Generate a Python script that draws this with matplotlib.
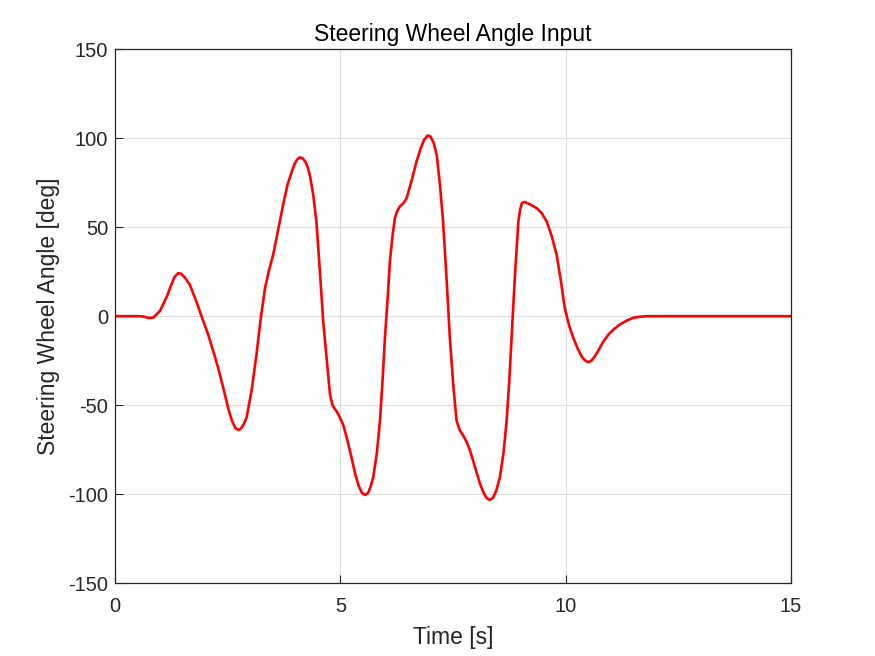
import numpy as np
import matplotlib
matplotlib.use("Agg")
import matplotlib.pyplot as plt

# Steering wheel angle trace (time in s, angle in deg)
time_s = [0.0, 0.3, 0.55, 0.65, 0.74, 0.85, 1.0, 1.15, 1.24, 1.32, 1.40, 1.47,
          1.55, 1.66, 1.81, 1.96, 2.07, 2.18, 2.29, 2.40, 2.52, 2.60, 2.67,
          2.74, 2.80, 2.86, 2.92, 3.03, 3.14, 3.23, 3.33, 3.42, 3.51, 3.62,
          3.73, 3.83, 3.92, 3.98, 4.04, 4.10, 4.16, 4.22, 4.28, 4.33, 4.40,
          4.47, 4.55, 4.62, 4.70, 4.77, 4.82, 4.87, 4.92, 4.99, 5.07, 5.14,
          5.24, 5.33, 5.41, 5.48, 5.55, 5.61, 5.67, 5.73, 5.81, 5.88, 5.94,
          5.99, 6.05, 6.10, 6.16, 6.21, 6.26, 6.32, 6.40, 6.47, 6.58, 6.69,
          6.78, 6.86, 6.94, 7.00, 7.07, 7.14, 7.21, 7.28, 7.36, 7.43, 7.51,
          7.58, 7.65, 7.73, 7.80, 7.88, 7.99, 8.10, 8.18, 8.25, 8.32, 8.39,
          8.46, 8.54, 8.62, 8.69, 8.75, 8.80, 8.84, 8.88, 8.92, 8.95, 8.99,
          9.03, 9.08, 9.20, 9.36, 9.47, 9.58, 9.69, 9.80, 9.89, 9.98, 10.08,
          10.17, 10.26, 10.35, 10.42, 10.48, 10.52, 10.57, 10.64, 10.72,
          10.83, 10.95, 11.07, 11.20, 11.35, 11.50, 11.65, 11.80, 12.5, 13.5,
          15.0]
angle_deg = [0.0, 0.0, 0.0, -0.3, -1.0, -0.8, 3.0, 11.0, 17.0, 22.0, 24.2,
             23.8, 21.8, 17.7, 8.0, -2.8, -10.5, -19.6, -29.0, -40.0, -52.5,
             -59.0, -62.8, -64.0, -63.0, -60.5, -56.9, -42.0, -21.5, -2.0, 15.9,
             26.0, 34.5, 48.5, 62.5, 74.0, 81.0, 85.2, 88.0, 89.2, 88.8, 87.0,
             83.5, 78.5, 68.0, 53.0, 24.0, -2.8, -24.5, -43.8, -49.5, -51.8,
             -53.5, -56.9, -61.5, -68.0, -78.5, -88.6, -95.5, -99.3, -100.4,
             -99.5, -96.0, -90.5, -77.0, -58.8, -35.0, -12.0, 10.0, 30.8, 45.5,
             55.0, 59.0, 61.6, 63.5, 66.2, 76.0, 86.8, 94.0, 99.2, 101.5, 101.0,
             97.5, 90.5, 74.0, 53.2, 20.0, -12.1, -40.0, -58.8, -64.0, -67.2,
             -70.5, -75.6, -85.0, -94.2, -99.2, -102.3, -103.2, -102.0, -98.0,
             -90.5, -77.0, -58.8, -36.0, -12.0, 7.0, 25.0, 41.0, 53.0, 60.0,
             63.6, 64.2, 63.0, 60.6, 57.8, 53.2, 45.0, 34.5, 20.5, 4.6, -5.5,
             -12.1, -17.8, -22.4, -24.6, -25.6, -25.7, -25.0, -22.8, -19.6,
             -14.5, -10.3, -7.3, -4.7, -2.5, -0.9, -0.3, 0.0, 0.0, 0.0, 0.0]

y_ticks = [-150, -100, -50, 0, 50, 100, 150]
x_ticks = [0, 5, 10, 15]

plt.rcParams['font.family'] = ['Liberation Sans', 'DejaVu Sans']
plt.rcParams['axes.unicode_minus'] = False
txt = '#262626'

fig = plt.figure(figsize=(8.75, 6.56), dpi=100)
ax = fig.add_axes([0.1314, 0.1110, 0.7726, 0.8140])

ax.plot(time_s, angle_deg, color='#ff0000', lw=1.9,
        solid_joinstyle='round', solid_capstyle='round')

ax.set_xlim(0, 15)
ax.set_ylim(-150, 150)
ax.set_xticks(x_ticks)
ax.set_yticks(y_ticks)
ax.grid(True, color='#dcdcdc', lw=0.8)
ax.set_axisbelow(True)
ax.tick_params(direction='in', length=6, width=0.8, colors=txt,
               labelsize=14.5, top=False, right=False)
ax.tick_params(axis='x', pad=10)
ax.tick_params(axis='y', pad=5)
for s in ax.spines.values():
    s.set_color(txt)
    s.set_linewidth(0.9)

ax.set_xlabel('Time [s]', fontsize=16.5, color=txt, labelpad=7)
ax.set_ylabel('Steering Wheel Angle [deg]', fontsize=16.5, color=txt, labelpad=6)
ax.set_title('Steering Wheel Angle Input', fontsize=16.5, color='black', pad=6)

fig.savefig('out.png', dpi=100)
